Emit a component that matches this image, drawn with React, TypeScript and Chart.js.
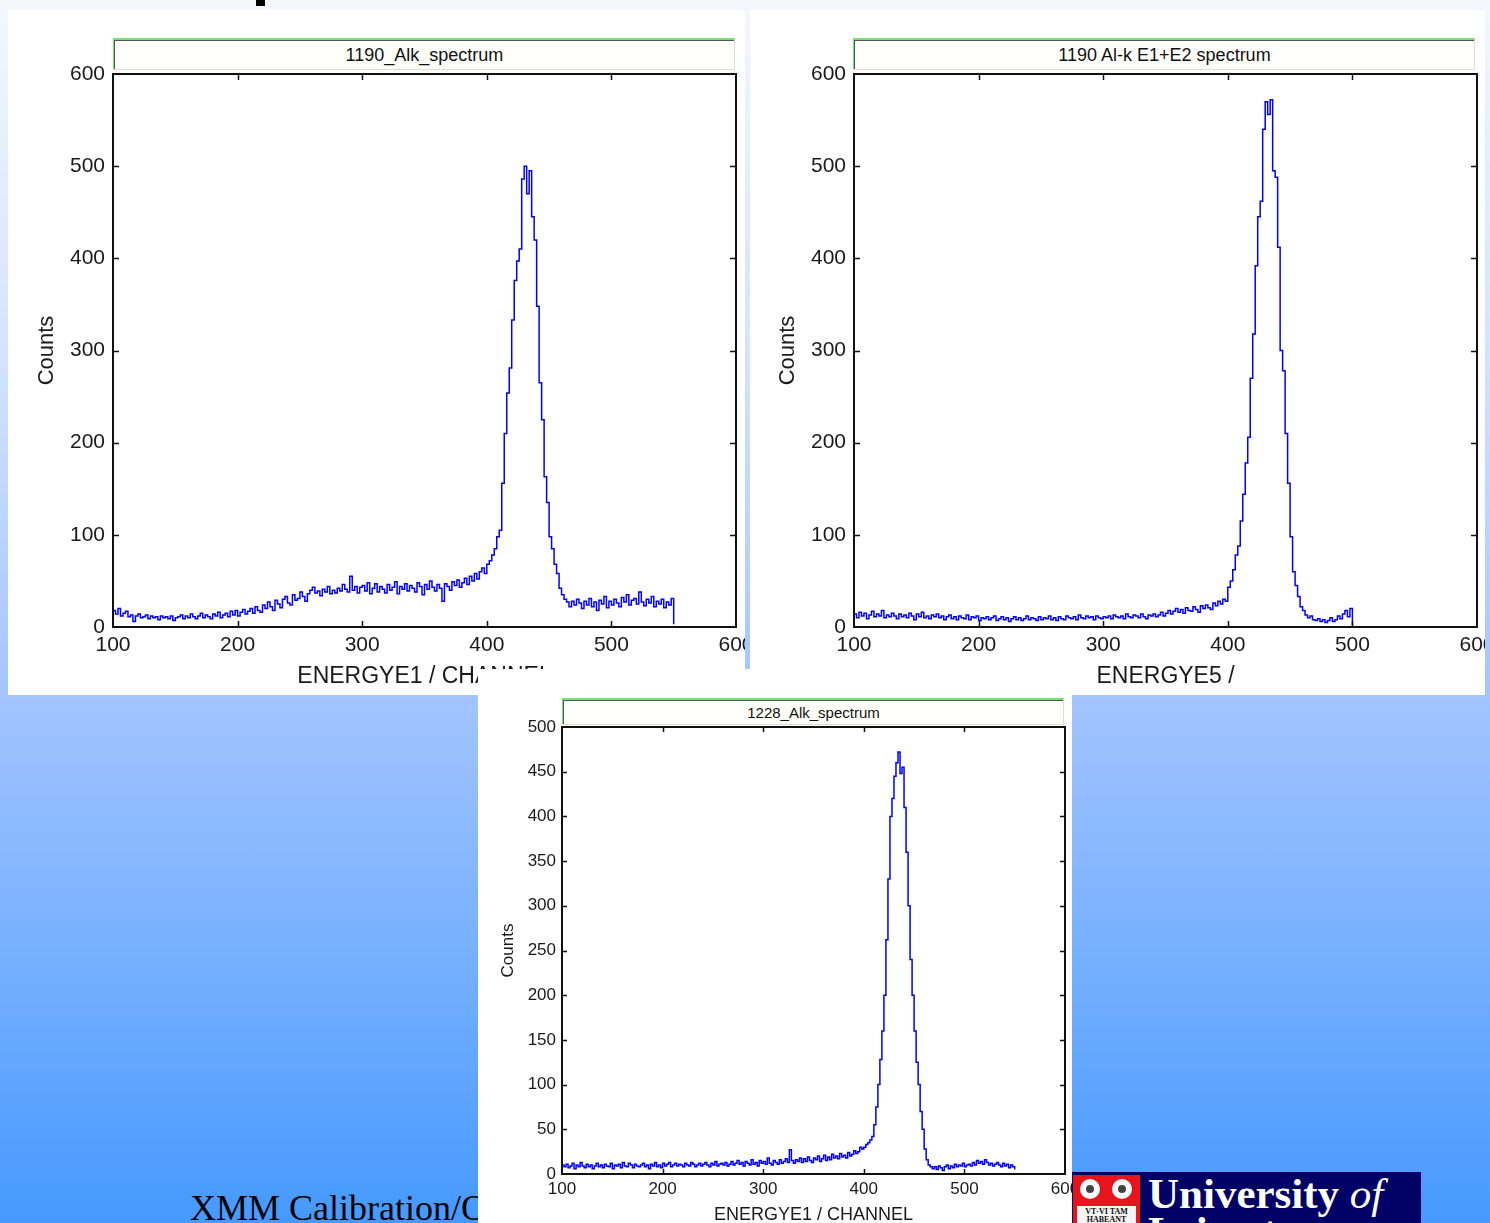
import React, { useEffect, useRef } from "react";
import { Chart, registerables } from "chart.js";

Chart.register(...registerables);

// ---------- data ----------
const CHANNEL_START = 100;
const CHANNEL_STEP = 2;

const X_TICKS = [100, 200, 300, 400, 500, 600];
const Y_TICKS_TOP = [0, 100, 200, 300, 400, 500, 600];
const Y_TICKS_BOTTOM = [0, 50, 100, 150, 200, 250, 300, 350, 400, 450, 500];

// 1190_Alk_spectrum, channels 100..550 step 2
const COUNTS_1190_ALK = [
  18, 14, 20, 12, 15, 17, 11, 13, 6, 12, 14, 10, 11, 13, 9, 12, 10, 11, 8, 12,
  10, 11, 9, 12, 7, 10, 11, 13, 9, 12, 10, 14, 11, 9, 12, 15, 10, 13, 11, 9,
  14, 12, 16, 10, 13, 15, 11, 17, 13, 18, 12, 16, 19, 14, 17, 20, 15, 22, 18, 16,
  24, 20, 27, 22, 18, 29, 25, 21, 30, 33, 26, 24, 35, 29, 31, 38, 33, 28, 36, 40,
  43, 37, 39, 34, 41, 38, 44, 36, 40, 37, 42, 39, 46, 41, 38, 55, 40, 44, 37, 43,
  45, 39, 48, 36, 42, 47, 38, 44, 41, 37, 46, 40, 43, 49, 36, 44, 41, 47, 39, 45,
  42, 38, 48, 44, 35, 46, 41, 50, 43, 39, 46, 42, 28, 47, 44, 40, 49, 45, 51, 43,
  48, 53, 46, 55, 50, 58, 52, 60, 64, 58, 68, 72, 78, 85, 98,
  105, 156, 210, 254, 281, 333, 376, 397, 410, 486, 500, 470, 495, 445, 420, 348,
  265, 225, 163, 135, 98, 85, 68, 58, 42, 35, 30, 27, 22, 28, 24,
  30, 26, 20, 28, 24, 31, 22, 27, 18, 29, 25, 33, 21, 28, 24, 30, 26, 22, 32, 27,
  35, 24, 29, 31, 25, 38, 27, 23, 30, 26, 33, 22, 28, 25, 30, 21, 27, 24, 31, 3,
];

// 1190 Al-k E1+E2 spectrum, channels 100..500 step 2
const COUNTS_1190_E1E2 = [
  14, 10, 16, 12, 15, 9, 13, 17, 11, 14, 12, 18, 10, 13, 11, 15, 12, 9, 14, 11,
  13, 10, 15, 12, 8, 14, 11, 16, 10, 12, 9, 13, 11, 14, 10, 12, 8, 11, 13, 9,
  11, 8, 12, 10, 9, 13, 8, 11, 10, 12, 7, 10, 9, 11, 8, 10, 12, 7, 9, 11,
  8, 10, 6, 9, 11, 8, 10, 7, 9, 12, 8, 10, 9, 7, 11, 8, 10, 9, 12, 8,
  10, 7, 11, 9, 8, 12, 10, 9, 11, 8, 13, 10, 9, 12, 10, 11, 8, 12, 10, 9,
  11, 10, 12, 9, 13, 11, 10, 12, 9, 14, 11, 10, 13, 12, 10, 14, 11, 9, 13, 12,
  14, 11, 13, 16, 12, 15, 18, 14, 17, 20, 16, 19, 15, 21, 18, 17, 22, 19, 16, 23,
  20, 24, 21, 19, 26, 23, 28, 25, 30, 28,
  43, 50, 62, 78, 88, 115, 144, 178, 206, 270, 318, 392, 445, 462, 540, 570, 556, 572,
  495, 488, 412, 300, 278, 210, 156, 98, 60, 45, 33, 22, 18, 13, 10, 12, 8, 7,
  9, 6, 8, 5, 7, 10, 6, 8, 12, 9, 14, 18, 11, 20, 2,
];

// 1228_Alk_spectrum, channels 100..550 step 2
const COUNTS_1228_ALK = [
  10, 8, 11, 7, 9, 12, 6, 10, 8, 13, 9, 7, 11, 8, 10, 6, 9, 12, 8, 10,
  7, 11, 9, 8, 12, 6, 10, 9, 11, 7, 13, 9, 8, 12, 10, 7, 11, 9, 8, 10,
  12, 8, 10, 6, 11, 9, 13, 8, 10, 7, 12, 9, 11, 13, 8, 10, 12, 9, 11, 10,
  8, 12, 10, 9, 13, 11, 8, 10, 12, 9, 11, 13, 10, 8, 12, 10, 14, 9, 11, 12,
  10, 13, 9, 11, 14, 10, 12, 15, 11, 13, 9, 14, 12, 10, 16, 11, 13, 9, 15, 12,
  14, 11, 18, 12, 10, 15, 13, 11, 16, 12, 14, 17, 13, 27, 15, 12, 16, 14, 18, 13,
  17, 14, 19, 15, 13, 18, 16, 20, 14, 17, 21, 15, 19, 16, 22, 18, 20, 17, 23, 19,
  21, 18, 24, 20, 22, 26, 23, 25, 30, 28,
  30, 33, 35, 38, 42, 55, 75, 100, 128, 160, 200, 262, 330, 400, 420, 445, 460, 472,
  448, 455, 410, 360, 300, 240, 200, 160, 125, 100, 70, 50, 28, 16, 10, 8, 6, 8,
  5, 9, 7, 4, 8, 10, 6, 9, 7, 11, 8, 10, 9, 12, 8, 10, 11, 9, 13, 10,
  15, 12, 14, 11, 16, 13, 10, 12, 9, 11, 13, 10, 8, 12, 9, 11, 7, 10, 8, 5,
];

const SANS = "'Liberation Sans', Arial, sans-serif";
const SERIF = "'Liberation Serif', 'Times New Roman', serif";
const TEXT = "#1a1a1a";

// ---------- plugin: boxed frame with inward ticks on all four sides ----------
const framePlugin = {
  id: "frame",
  afterDatasetsDraw(chart: any, _args: any, opts: any) {
    const { ctx, chartArea, scales } = chart;
    const { left, right, top, bottom } = chartArea;
    const len = opts.len || 6;
    ctx.save();
    ctx.strokeStyle = "#111";
    ctx.lineWidth = 2;
    ctx.strokeRect(left, top, right - left, bottom - top);
    ctx.lineWidth = 1.5;
    ctx.beginPath();
    scales.x.ticks.forEach((t: any) => {
      const px = Math.round(scales.x.getPixelForValue(t.value)) + 0.5;
      if (px <= left + 2 || px >= right - 2) return;
      ctx.moveTo(px, top);
      ctx.lineTo(px, top + len);
      ctx.moveTo(px, bottom);
      ctx.lineTo(px, bottom - len);
    });
    scales.y.ticks.forEach((t: any) => {
      const py = Math.round(scales.y.getPixelForValue(t.value)) + 0.5;
      if (py <= top + 2 || py >= bottom - 2) return;
      ctx.moveTo(left, py);
      ctx.lineTo(left + len, py);
      ctx.moveTo(right, py);
      ctx.lineTo(right - len, py);
    });
    ctx.stroke();
    ctx.restore();
  },
};

type Cfg = {
  w: number;
  h: number;
  counts: number[];
  yTicks: number[];
  yMax: number;
  yWidth: number;
  xHeight: number;
  padding: { left: number; right: number; top: number; bottom: number };
  tickFont: number;
  xTickPad: number;
  yTickPad: number;
  xTitle: string;
  xTitleFont: number;
  xTitlePad: number;
  yTitleFont: number;
  yTitlePad: number;
  tickLen: number;
};

function SpectrumChart({ cfg }: { cfg: Cfg }) {
  const ref = useRef<HTMLCanvasElement>(null);
  useEffect(() => {
    const points = cfg.counts.map((v, i) => ({ x: CHANNEL_START + i * CHANNEL_STEP, y: v }));
    const chart = new Chart(ref.current as HTMLCanvasElement, {
      type: "line",
      data: {
        datasets: [
          {
            data: points,
            borderColor: "#0000ff",
            borderWidth: 1.5,
            pointRadius: 0,
            stepped: true,
            fill: false,
          },
        ],
      },
      options: {
        responsive: false,
        animation: false,
        devicePixelRatio: 1,
        layout: { padding: cfg.padding },
        plugins: {
          legend: { display: false },
          tooltip: { enabled: false },
          // @ts-ignore
          frame: { len: cfg.tickLen },
        },
        scales: {
          x: {
            type: "linear",
            min: 100,
            max: 600,
            afterBuildTicks: (s: any) => {
              s.ticks = X_TICKS.map((v) => ({ value: v }));
            },
            afterFit: (s: any) => {
              s.height = cfg.xHeight;
              s.paddingLeft = 0;
              s.paddingRight = 0;
            },
            grid: { display: false, drawTicks: false, tickLength: 0 },
            border: { display: false },
            ticks: {
              font: { family: SANS, size: cfg.tickFont },
              color: TEXT,
              padding: cfg.xTickPad,
              maxRotation: 0,
              autoSkip: false,
            },
            title: {
              display: true,
              text: cfg.xTitle,
              font: { family: SANS, size: cfg.xTitleFont },
              color: TEXT,
              padding: { top: 0, bottom: cfg.xTitlePad },
            },
          },
          y: {
            type: "linear",
            min: 0,
            max: cfg.yMax,
            afterBuildTicks: (s: any) => {
              s.ticks = cfg.yTicks.map((v) => ({ value: v }));
            },
            afterFit: (s: any) => {
              s.width = cfg.yWidth;
              s.paddingTop = 0;
              s.paddingBottom = 0;
            },
            grid: { display: false, drawTicks: false, tickLength: 0 },
            border: { display: false },
            ticks: {
              font: { family: SANS, size: cfg.tickFont },
              color: TEXT,
              padding: cfg.yTickPad,
              autoSkip: false,
            },
            title: {
              display: true,
              text: "Counts",
              font: { family: SANS, size: cfg.yTitleFont },
              color: TEXT,
              padding: { top: cfg.yTitlePad, bottom: 0 },
            },
          },
        },
      },
      plugins: [framePlugin as any],
    });
    return () => chart.destroy();
  }, []);
  return (
    <canvas
      ref={ref}
      width={cfg.w}
      height={cfg.h}
      style={{ position: "absolute", left: 0, top: 0, width: cfg.w, height: cfg.h }}
    />
  );
}

function TitleBox({ left, top, width, height, text, size }: any) {
  return (
    <div
      style={{
        position: "absolute",
        left,
        top,
        width,
        height,
        boxSizing: "border-box",
        borderTop: "2px solid #74e274",
        borderLeft: "1px solid #74e274",
        borderRight: "1px solid #e2decd",
        borderBottom: "1px solid #e2decd",
        background: "#fffffb",
      }}
    >
      <div
        style={{
          position: "absolute",
          inset: 0,
          borderTop: "1px solid #555",
          borderLeft: "1px solid #555",
          display: "flex",
          alignItems: "center",
          justifyContent: "center",
          fontFamily: SANS,
          fontSize: size,
          color: "#111",
          whiteSpace: "nowrap",
        }}
      >
        {text}
      </div>
    </div>
  );
}

const CFG_1: Cfg = {
  w: 737,
  h: 685,
  counts: COUNTS_1190_ALK,
  yTicks: Y_TICKS_TOP,
  yMax: 600,
  yWidth: 105,
  xHeight: 68,
  padding: { left: 0, right: 9, top: 64, bottom: 0 },
  tickFont: 21,
  xTickPad: 6,
  yTickPad: 8,
  xTitle: "ENERGYE1 / CHANNEL",
  xTitleFont: 23,
  xTitlePad: 5,
  yTitleFont: 22,
  yTitlePad: 26,
  tickLen: 6,
};

const CFG_2: Cfg = {
  w: 735,
  h: 685,
  counts: COUNTS_1190_E1E2,
  yTicks: Y_TICKS_TOP,
  yMax: 600,
  yWidth: 104,
  xHeight: 68,
  padding: { left: 0, right: 8, top: 64, bottom: 0 },
  tickFont: 21,
  xTickPad: 6,
  yTickPad: 8,
  xTitle: "ENERGYE5 /",
  xTitleFont: 23,
  xTitlePad: 5,
  yTitleFont: 22,
  yTitlePad: 25,
  tickLen: 6,
};

const CFG_3: Cfg = {
  w: 594,
  h: 554,
  counts: COUNTS_1228_ALK,
  yTicks: Y_TICKS_BOTTOM,
  yMax: 500,
  yWidth: 84,
  xHeight: 49,
  padding: { left: 0, right: 7, top: 58, bottom: 0 },
  tickFont: 17,
  xTickPad: 5,
  yTickPad: 6,
  xTitle: "ENERGYE1 / CHANNEL",
  xTitleFont: 18,
  xTitlePad: -3,
  yTitleFont: 17,
  yTitlePad: 20,
  tickLen: 5,
};

function Rosette({ left }: { left: number }) {
  return (
    <div style={{ position: "absolute", left, top: 4, width: 20, height: 20, borderRadius: 10, background: "#fff" }}>
      <div
        style={{
          position: "absolute",
          left: 6,
          top: 6,
          width: 8,
          height: 8,
          borderRadius: 4,
          background: "#444",
        }}
      />
    </div>
  );
}

export default function App() {
  return (
    <div
      style={{
        position: "fixed",
        left: 0,
        top: 0,
        width: 1490,
        height: 1223,
        overflow: "hidden",
        background:
          "linear-gradient(to bottom, #f4f7fe 0%, #d2e2ff 30%, #a3c4ff 57%, #72aeff 80%, #4699ff 100%)",
      }}
    >
      {/* fragment of slide heading */}
      <div style={{ position: "absolute", left: 256, top: 0, width: 9, height: 6, background: "#000" }} />

      {/* slide footer text */}
      <div
        style={{
          position: "absolute",
          left: 190,
          top: 1190,
          fontFamily: SERIF,
          fontSize: 36,
          lineHeight: "36px",
          color: "#000",
          whiteSpace: "nowrap",
        }}
      >
        XMM Calibration/Operations
      </div>

      {/* top-left panel */}
      <div style={{ position: "absolute", left: 8, top: 10, width: 737, height: 685, background: "#fff", overflow: "hidden" }}>
        <SpectrumChart cfg={CFG_1} />
        <TitleBox left={105} top={28} width={622} height={32} text="1190_Alk_spectrum" size={18} />
      </div>

      {/* top-right panel */}
      <div style={{ position: "absolute", left: 750, top: 10, width: 735, height: 685, background: "#fff", overflow: "hidden" }}>
        <SpectrumChart cfg={CFG_2} />
        <TitleBox left={103} top={28} width={622} height={32} text="1190 Al-k E1+E2 spectrum" size={18} />
      </div>

      {/* bottom panel */}
      <div style={{ position: "absolute", left: 478, top: 669, width: 594, height: 554, background: "#fff", overflow: "hidden" }}>
        <SpectrumChart cfg={CFG_3} />
        <TitleBox left={84} top={29} width={502} height={27} text="1228_Alk_spectrum" size={15} />
      </div>

      {/* university logo */}
      <div
        style={{
          position: "absolute",
          left: 1072,
          top: 1172,
          width: 349,
          height: 51,
          background: "#000066",
          overflow: "hidden",
        }}
      >
        <div style={{ position: "absolute", left: 1, top: 3, width: 67, height: 48, background: "#e8141b" }}>
          <Rosette left={7} />
          <Rosette left={39} />
          <div
            style={{
              position: "absolute",
              left: 4,
              top: 31,
              width: 59,
              height: 20,
              background: "#f4f4f4",
              fontFamily: SERIF,
              fontSize: 8,
              lineHeight: "8px",
              fontWeight: "bold",
              color: "#111",
              textAlign: "center",
              paddingTop: 2,
            }}
          >
            VT·VI TAM
            <br />
            HABEANT
          </div>
        </div>
        <div
          style={{
            position: "absolute",
            left: 76,
            top: 0,
            fontFamily: SERIF,
            fontSize: 43,
            lineHeight: "43px",
            fontWeight: "bold",
            color: "#fff",
            whiteSpace: "nowrap",
          }}
        >
          University <span style={{ fontStyle: "italic", fontWeight: "normal" }}>of</span>
        </div>
        <div
          style={{
            position: "absolute",
            left: 76,
            top: 38,
            fontFamily: SERIF,
            fontSize: 43,
            lineHeight: "43px",
            fontWeight: "bold",
            color: "#fff",
            whiteSpace: "nowrap",
          }}
        >
          Leicester
        </div>
      </div>
    </div>
  );
}
